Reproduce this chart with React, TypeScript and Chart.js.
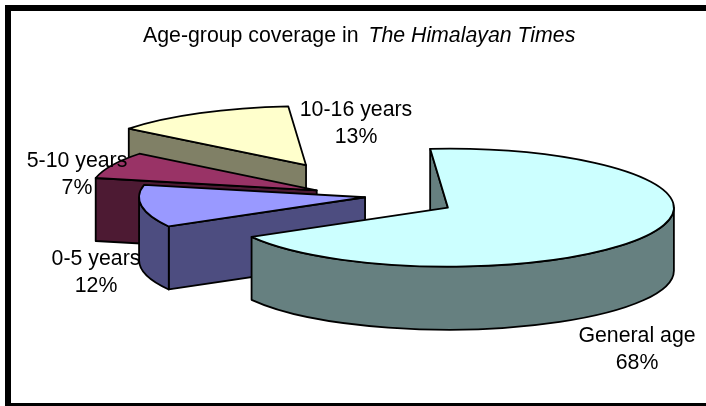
import React, { useEffect, useRef } from "react";
import { Chart, registerables } from "chart.js";

Chart.register(...registerables);

// ---- data -------------------------------------------------------------
const categories = ["General age", "0-5 years", "5-10 years", "10-16 years"];
const shares = [68, 11.6, 7.3, 13.1];
const titleRoman = "Age-group coverage in ";
const titleItalic = "The Himalayan Times";

// ---- style ------------------------------------------------------------
const topColors = ["#CCFFFF", "#9999FF", "#993366", "#FFFFCC"];
const wallColors = ["#668080", "#4D4D80", "#4D1A33", "#808066"];
const explode = [87, 6, 60, 138];
const labelAt = [
  [637, 336],
  [96, 259],
  [77, 161],
  [356, 110],
];
const ROTATION = -4.5;
const RX = 226;
const RY = 59;
const DEPTH = 63;
const FONT_SIZE = 21.3;
const FONT = "Liberation Sans, Arial, sans-serif";
const LINE_GAP = 27;

const pie3d = {
  id: "pie3d",
  beforeDraw(chart: any) {
    const { ctx, width, height } = chart;
    ctx.save();
    ctx.fillStyle = "#fff";
    ctx.fillRect(0, 0, width, height);
    ctx.fillStyle = "#000";
    ctx.fillRect(5, 5, width - 5, 6);
    ctx.fillRect(5, 5, 6, height - 5);
    ctx.fillRect(5, 403, width - 5, 3);
    ctx.restore();
  },
  beforeDatasetsDraw(chart: any) {
    const { ctx } = chart;
    const arcs = chart.getDatasetMeta(0).data as any[];
    const order = [3, 2, 1, 0];
    ctx.save();
    ctx.lineWidth = 1.8;
    ctx.strokeStyle = "#000";
    ctx.lineJoin = "round";
    for (const i of order) {
      const arc = arcs[i];
      const a0 = arc.startAngle;
      const a1 = arc.endAngle;
      const mid = (a0 + a1) / 2;
      const cx = arc.x + Math.cos(mid) * explode[i];
      const cy = arc.y + (Math.sin(mid) * explode[i] * RY) / RX;
      const px = (a: number) => cx + RX * Math.cos(a);
      const py = (a: number) => cy + RY * Math.sin(a);

      ctx.fillStyle = wallColors[i];
      // radial wall at the start edge, when it faces the viewer
      if (Math.cos(a0) < 0) {
        ctx.beginPath();
        ctx.moveTo(cx, cy);
        ctx.lineTo(px(a0), py(a0));
        ctx.lineTo(px(a0), py(a0) + DEPTH);
        ctx.lineTo(cx, cy + DEPTH);
        ctx.closePath();
        ctx.fill();
        ctx.stroke();
      }
      // radial wall at the end edge, when it faces the viewer
      if (Math.cos(a1) > 0) {
        ctx.beginPath();
        ctx.moveTo(cx, cy);
        ctx.lineTo(px(a1), py(a1));
        ctx.lineTo(px(a1), py(a1) + DEPTH);
        ctx.lineTo(cx, cy + DEPTH);
        ctx.closePath();
        ctx.fill();
        ctx.stroke();
      }
      // curved outer wall: only the front half of the rim is seen
      const from = Math.max(a0, 0);
      const to = Math.min(a1, Math.PI);
      if (to > from) {
        ctx.beginPath();
        ctx.ellipse(cx, cy, RX, RY, 0, from, to);
        ctx.lineTo(px(to), py(to) + DEPTH);
        ctx.ellipse(cx, cy + DEPTH, RX, RY, 0, to, from, true);
        ctx.closePath();
        ctx.fill();
        ctx.stroke();
      }
      // top face
      ctx.fillStyle = topColors[i];
      ctx.beginPath();
      ctx.moveTo(cx, cy);
      ctx.ellipse(cx, cy, RX, RY, 0, a0, a1);
      ctx.closePath();
      ctx.fill();
      ctx.stroke();
    }
    ctx.restore();
    return false;
  },
  afterDraw(chart: any) {
    const { ctx } = chart;
    const total = shares.reduce((s, v) => s + v, 0);
    ctx.save();
    ctx.fillStyle = "#000";
    ctx.textBaseline = "middle";
    ctx.textAlign = "center";
    ctx.font = `${FONT_SIZE}px ${FONT}`;
    categories.forEach((c, i) => {
      const [x, y] = labelAt[i];
      ctx.fillText(c, x, y);
      ctx.fillText(`${Math.round((shares[i] / total) * 100)}%`, x, y + LINE_GAP);
    });
    // title: roman then italic run
    ctx.textAlign = "left";
    const tx = 143;
    const ty = 36;
    ctx.font = `${FONT_SIZE}px ${FONT}`;
    ctx.fillText(titleRoman, tx, ty);
    const w = ctx.measureText(titleRoman).width;
    ctx.font = `italic ${FONT_SIZE}px ${FONT}`;
    ctx.fillText(titleItalic, tx + w + 4, ty);
    ctx.restore();
  },
};

export default function App() {
  const ref = useRef<HTMLCanvasElement>(null);
  useEffect(() => {
    const chart = new Chart(ref.current as HTMLCanvasElement, {
      type: "pie",
      data: {
        labels: categories,
        datasets: [{ data: shares, backgroundColor: topColors }],
      },
      options: {
        responsive: false,
        animation: false,
        rotation: ROTATION,
        layout: { padding: { left: 36, bottom: 12 } },
        plugins: { legend: { display: false }, tooltip: { enabled: false }, title: { display: false } },
      },
      plugins: [pie3d],
    } as any);
    return () => chart.destroy();
  }, []);
  return (
    <div style={{ position: "absolute", left: 0, top: 0, width: 706, height: 406 }}>
      <canvas ref={ref} width={706} height={406} style={{ display: "block" }} />
    </div>
  );
}
